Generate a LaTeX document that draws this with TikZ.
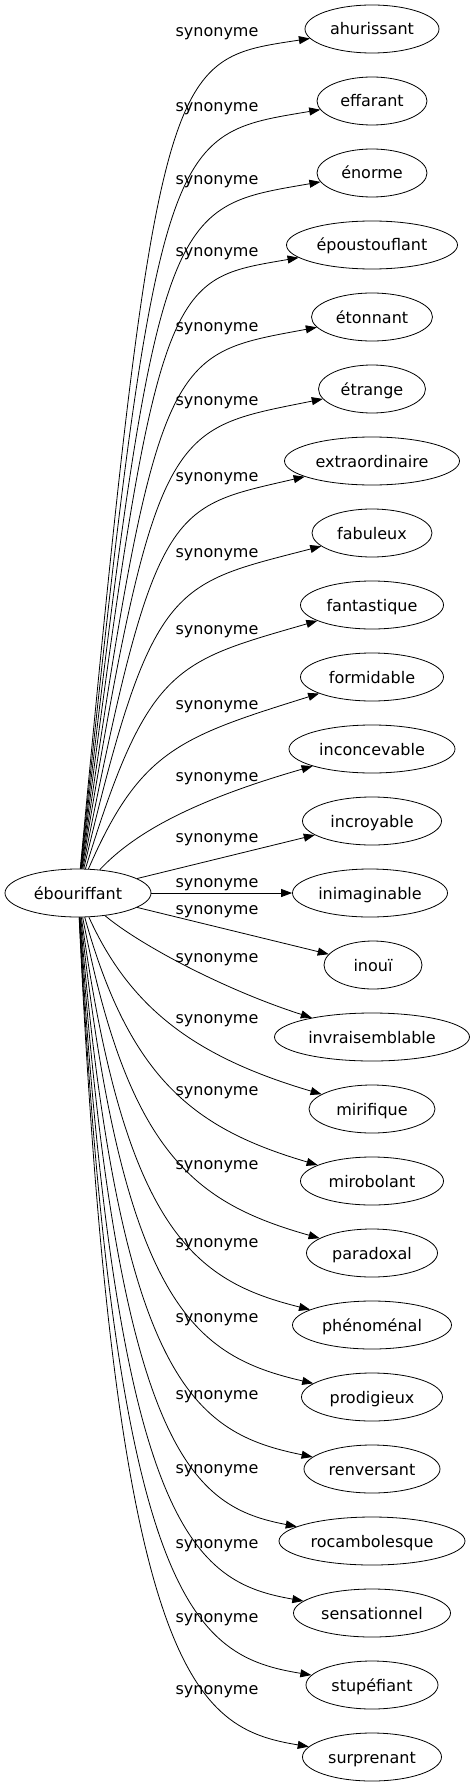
\documentclass[tikz,border=0pt]{standalone}
\usepackage{fontspec}
\setmainfont{DejaVu Sans}
\usepackage{tikz}
\usetikzlibrary{arrows.meta,shapes.geometric}
\tikzset{>/.tip={Triangle[length=11pt,width=8pt]},
  word/.style={draw, ellipse, minimum height=48pt, inner xsep=0pt, inner ysep=0pt,
    text height=12pt, text depth=0pt, font=\fontsize{16}{19}\selectfont},
  syn/.style={anchor=base, inner sep=0pt, font=\fontsize{16}{19}\selectfont}}

\begin{document}
\begin{tikzpicture}[x=1pt, y=-1pt, line width=0.8pt]
\useasboundingbox (0,0) rectangle (475,1787);

\node[word, minimum width=146pt] (ebouriffant) at (78,893) {ébouriffant};

\node[word, minimum width=134pt] (ahurissant) at (372,29) {ahurissant};
\node[word, minimum width=110pt] (effarant) at (372,101) {effarant};
\node[word, minimum width=110pt] (enorme) at (372,173) {énorme};
\node[word, minimum width=171pt] (epoustouflant) at (372,245) {époustouflant};
\node[word, minimum width=121pt] (etonnant) at (372,317) {étonnant};
\node[word, minimum width=107pt] (etrange) at (372,389) {étrange};
\node[word, minimum width=175pt] (extraordinaire) at (372,461) {extraordinaire};
\node[word, minimum width=120pt] (fabuleux) at (372,533) {fabuleux};
\node[word, minimum width=143pt] (fantastique) at (372,605) {fantastique};
\node[word, minimum width=143pt] (formidable) at (372,677) {formidable};
\node[word, minimum width=166pt] (inconcevable) at (372,749) {inconcevable};
\node[word, minimum width=139pt] (incroyable) at (372,821) {incroyable};
\node[word, minimum width=155pt] (inimaginable) at (370,893) {inimaginable};
\node[word, minimum width=98pt] (inoui) at (373,965) {inouï};
\node[word, minimum width=195pt] (invraisemblable) at (372,1037) {invraisemblable};
\node[word, minimum width=126pt] (mirifique) at (372,1109) {mirifique};
\node[word, minimum width=143pt] (mirobolant) at (372,1181) {mirobolant};
\node[word, minimum width=131pt] (paradoxal) at (372,1253) {paradoxal};
\node[word, minimum width=159pt] (phenomenal) at (372,1325) {phénoménal};
\node[word, minimum width=141pt] (prodigieux) at (372,1397) {prodigieux};
\node[word, minimum width=136pt] (renversant) at (372,1469) {renversant};
\node[word, minimum width=186pt] (rocambolesque) at (372,1541) {rocambolesque};
\node[word, minimum width=157pt] (sensationnel) at (372,1613) {sensationnel};
\node[word, minimum width=132pt] (stupefiant) at (372,1685) {stupéfiant};
\node[word, minimum width=139pt] (surprenant) at (372,1757) {surprenant};

\node[syn] (syn-ahurissant) at (217,37) {synonyme};
\node[syn] (syn-effarant) at (217,112) {synonyme};
\node[syn] (syn-enorme) at (217,185) {synonyme};
\node[syn] (syn-epoustouflant) at (217,257) {synonyme};
\node[syn] (syn-etonnant) at (217,331) {synonyme};
\node[syn] (syn-etrange) at (217,405) {synonyme};
\node[syn] (syn-extraordinaire) at (217,481) {synonyme};
\node[syn] (syn-fabuleux) at (217,557) {synonyme};
\node[syn] (syn-fantastique) at (217,634) {synonyme};
\node[syn] (syn-formidable) at (217,709) {synonyme};
\node[syn] (syn-inconcevable) at (217,781) {synonyme};
\node[syn] (syn-incroyable) at (217,842) {synonyme};
\node[syn] (syn-inimaginable) at (217,887) {synonyme};
\node[syn] (syn-inoui) at (217,914) {synonyme};
\node[syn] (syn-invraisemblable) at (217,962) {synonyme};
\node[syn] (syn-mirifique) at (217,1023) {synonyme};
\node[syn] (syn-mirobolant) at (217,1095) {synonyme};
\node[syn] (syn-paradoxal) at (217,1169) {synonyme};
\node[syn] (syn-phenomenal) at (217,1247) {synonyme};
\node[syn] (syn-prodigieux) at (217,1322) {synonyme};
\node[syn] (syn-renversant) at (217,1399) {synonyme};
\node[syn] (syn-rocambolesque) at (217,1473) {synonyme};
\node[syn] (syn-sensationnel) at (217,1548) {synonyme};
\node[syn] (syn-stupefiant) at (217,1622) {synonyme};
\node[syn] (syn-surprenant) at (217,1694) {synonyme};

% upper fan
\draw[->] (ebouriffant) .. controls (157,52) and (169,60) .. (ahurissant);
\draw[->] (ebouriffant) .. controls (157,127) and (169,135) .. (effarant);
\draw[->] (ebouriffant) .. controls (157,200) and (169,208) .. (enorme);
\draw[->] (ebouriffant) .. controls (157,272) and (169,280) .. (epoustouflant);
\draw[->] (ebouriffant) .. controls (157,346) and (169,355) .. (etonnant);
\draw[->] (ebouriffant) .. controls (156,420) and (169,430) .. (etrange);
\draw[->] (ebouriffant) .. controls (155,500) and (170,508) .. (extraordinaire);
\draw[->] (ebouriffant) .. controls (152,580) and (172,585) .. (fabuleux);
\draw[->] (ebouriffant) .. controls (148,665) and (175,662) .. (fantastique);
\draw[->] (ebouriffant) .. controls (140,750) and (180,737) .. (formidable);
\draw[->] (ebouriffant) .. controls (135,832) and (195,800) .. (inconcevable);
\draw[->] (ebouriffant) -- (incroyable);
\draw[->] (ebouriffant) -- (inimaginable);
\draw[->] (ebouriffant) -- (inoui);
% lower fan
\draw[->] (ebouriffant) .. controls (140,945) and (225,990) .. (invraisemblable);
\draw[->] (ebouriffant) .. controls (130,1008) and (195,1057) .. (mirifique);
\draw[->] (ebouriffant) .. controls (130,1080) and (195,1129) .. (mirobolant);
\draw[->] (ebouriffant) .. controls (128,1154) and (195,1203) .. (paradoxal);
\draw[->] (ebouriffant) .. controls (125,1232) and (195,1281) .. (phenomenal);
\draw[->] (ebouriffant) .. controls (123,1307) and (195,1356) .. (prodigieux);
\draw[->] (ebouriffant) .. controls (120,1384) and (195,1433) .. (renversant);
\draw[->] (ebouriffant) .. controls (118,1458) and (195,1507) .. (rocambolesque);
\draw[->] (ebouriffant) .. controls (116,1533) and (195,1582) .. (sensationnel);
\draw[->] (ebouriffant) .. controls (115,1607) and (195,1656) .. (stupefiant);
\draw[->] (ebouriffant) .. controls (115,1679) and (195,1728) .. (surprenant);
\end{tikzpicture}
\end{document}
